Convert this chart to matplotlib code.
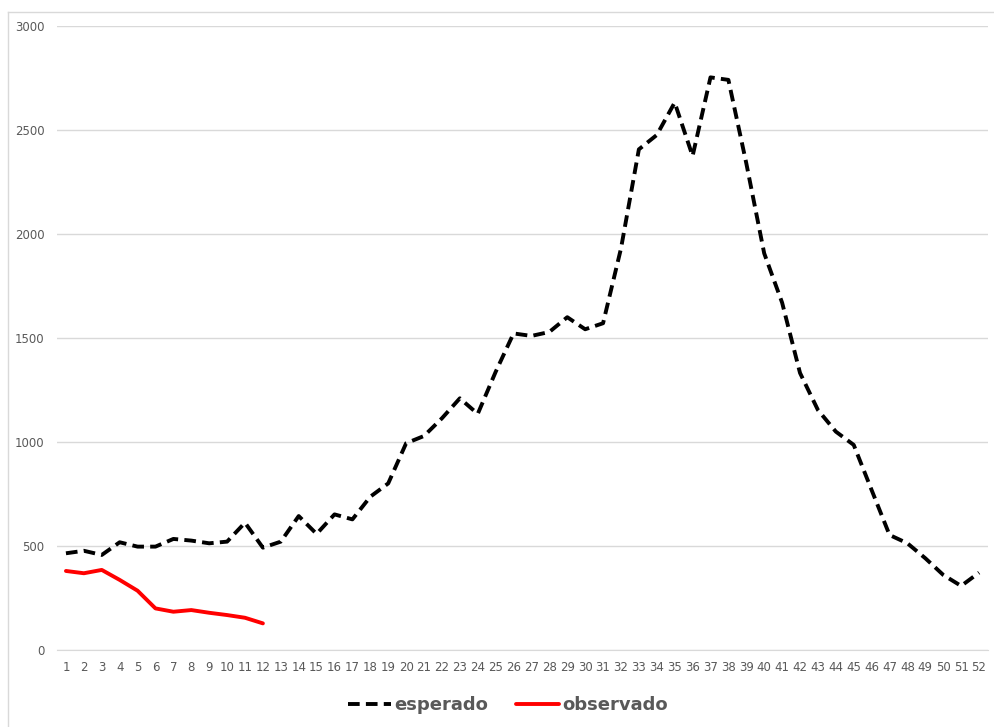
'''
esperado vs observado por semana
'''
import matplotlib.pyplot as plt
from matplotlib.lines import Line2D

semanas = list(range(1, 53))

esperado = [465, 477, 457, 518, 497, 497, 534, 526, 513, 521,
            612, 492, 521, 644, 558, 652, 628, 737, 801, 994,
            1029, 1114, 1210, 1135, 1337, 1522, 1510, 1529, 1600, 1542,
            1571, 1930, 2407, 2476, 2632, 2375, 2753, 2741, 2340, 1907,
            1670, 1332, 1154, 1050, 986, 769, 553, 513, 441, 361,
            308, 372]

observado = [380, 369, 385, 337, 285, 200, 184, 192, 179, 168,
             155, 128]

y_ticks = [0, 500, 1000, 1500, 2000, 2500, 3000]

gris = '#595959'

fig = plt.figure(figsize=(9.94, 7.27), dpi=100)
ax = fig.add_axes([57 / 994, 1 - 650 / 727, 931 / 994, 624 / 727])

# borde del grafico (solo arriba e izquierda quedan visibles)
fig.add_artist(Line2D([8 / 994, 8 / 994], [0, 1 - 12 / 727],
                      color='#d9d9d9', lw=1, transform=fig.transFigure))
fig.add_artist(Line2D([8 / 994, 1], [1 - 12 / 727, 1 - 12 / 727],
                      color='#d9d9d9', lw=1, transform=fig.transFigure))

ax.plot(semanas, esperado, color='black', lw=2.8, dashes=(3, 1.6),
        dash_capstyle='butt', label='esperado', zorder=3)
ax.plot(semanas[:len(observado)], observado, color='#ff0000', lw=2.8,
        solid_capstyle='round', label='observado', zorder=3)

ax.set_xlim(0.5, 52.5)
ax.set_ylim(0, 3000)
ax.set_xticks(semanas)
ax.set_xticklabels([str(s) for s in semanas])
ax.set_yticks(y_ticks)
ax.yaxis.grid(True, color='#d9d9d9', lw=1)
ax.set_axisbelow(True)
for side in ['top', 'right', 'left']:
  ax.spines[side].set_visible(False)
ax.spines['bottom'].set_color('#d9d9d9')
ax.tick_params(axis='both', length=0, labelsize=8.5, labelcolor=gris)
ax.tick_params(axis='x', pad=8)
ax.tick_params(axis='y', pad=9)

leg = fig.legend(loc='center', bbox_to_anchor=(508 / 994, 1 - 705 / 727),
                 ncol=2, frameon=False, handlelength=2.4, handletextpad=0.2,
                 columnspacing=1.5,
                 prop={'size': 13, 'weight': 'bold'})
for t in leg.get_texts():
  t.set_color(gris)

fig.savefig('out.png', dpi=100, facecolor='white')
